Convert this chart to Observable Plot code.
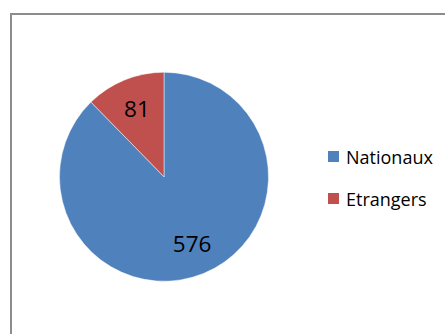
<!DOCTYPE html>
<html>
<head>
<meta charset="utf-8">
<script src="https://cdn.jsdelivr.net/npm/d3@7"></script>
<script src="https://cdn.jsdelivr.net/npm/@observablehq/plot@0.6"></script>
<style>
  html, body { margin: 0; padding: 0; background: #fff; }
  #wrap { position: relative; width: 445px; height: 334px; overflow: hidden; font-family: "Open Sans", sans-serif; }
  #frame { position: absolute; left: 10px; top: 13px; width: 460px; height: 360px; border: 2px solid #8c8c8c; box-sizing: border-box; }
  #chart { position: absolute; left: 0; top: 0; }
  #legend { position: absolute; left: 328px; top: 143px; }
  .item { display: flex; align-items: center; height: 27px; margin-bottom: 15px; font-size: 18px; color: #000; }
  .sw { width: 11px; height: 11px; margin-right: 7px; }
</style>
</head>
<body>
<div id="wrap">
  <div id="frame"></div>
  <div id="chart"></div>
  <div id="legend"></div>
</div>
<script>
const categories = ["Nationaux", "Etrangers"];
const values = [576, 81];
const colors = ["#4F81BD", "#C0504D"];

const data = categories.map((c, i) => ({category: c, value: values[i], color: colors[i]}));
const arcs = d3.pie().sort(null).value(d => d.value)(data);
const labelRadius = 0.7;
const labels = arcs.map(a => {
  const mid = (a.startAngle + a.endAngle) / 2;
  return {x: Math.sin(mid) * labelRadius, y: Math.cos(mid) * labelRadius, text: String(a.data.value)};
});

function pieMark(index, scales) {
  const sx = scales.x, sy = scales.y;
  const cx = sx(0), cy = sy(0);
  const r = Math.abs(sx(1) - sx(0));
  const arc = d3.arc().innerRadius(0).outerRadius(r);
  const g = d3.create("svg:g").attr("transform", `translate(${cx},${cy})`);
  g.selectAll("path").data(arcs).join("path")
    .attr("d", arc)
    .attr("fill", d => d.data.color)
    .attr("stroke", "#ffffff")
    .attr("stroke-opacity", 0.6)
    .attr("stroke-width", 0.8);
  return g.node();
}

const plot = Plot.plot({
  width: 445,
  height: 334,
  margin: 0,
  style: {background: "transparent", fontFamily: "'Open Sans', sans-serif"},
  x: {domain: [-1, 1], range: [59.5, 268.5], axis: null},
  y: {domain: [-1, 1], range: [281, 72.5], axis: null},
  marks: [
    pieMark,
    Plot.text(labels, {x: "x", y: "y", text: "text", fontSize: 22.5, fill: "#000", fontFamily: "'Open Sans', sans-serif"})
  ]
});
document.getElementById("chart").appendChild(plot);

const legend = d3.select("#legend");
data.forEach(d => {
  const item = legend.append("div").attr("class", "item");
  item.append("div").attr("class", "sw").style("background", d.color);
  item.append("span").text(d.category);
});
</script>
</body>
</html>
